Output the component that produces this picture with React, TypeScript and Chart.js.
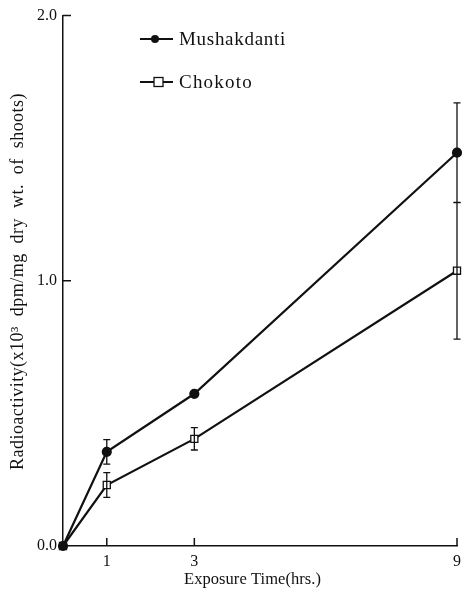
import React, { useEffect, useRef } from "react";
import { Chart, registerables } from "chart.js";

Chart.register(...registerables);

const times = [0, 1, 3, 9];
const mushakdanti = [0, 0.355, 0.574, 1.483];
const mushakdantiErr = [0, 0.046, 0, 0.188];
const chokoto = [0, 0.23, 0.404, 1.038];
const chokotoErr = [0, 0.047, 0.042, 0.258];
const xTicks = [1, 3, 9];
const yTicks = [0, 1, 2];
const seriesNames = ["Mushakdanti", "Chokoto"];
const xTitle = "Exposure Time(hrs.)";
const yTitle = "Radioactivity(x10³  dpm/mg  dry  wt.  of  shoots)";

const FONT = "'Liberation Serif', 'Times New Roman', serif";

function fitText(ctx: any, text: string, x: number, y: number, width: number, align: string) {
  ctx.letterSpacing = "0px";
  const w = ctx.measureText(text).width;
  const n = Array.from(text).length;
  const ls = n > 1 ? (width - w) / n : 0;
  ctx.letterSpacing = `${ls}px`;
  ctx.textAlign = align;
  ctx.fillText(text, x, y);
  ctx.letterSpacing = "0px";
}

const errorBarPlugin = {
  id: "errorBars",
  afterDatasetsDraw(chart: any) {
    const ctx = chart.ctx;
    const xs = chart.scales.x;
    const ys = chart.scales.y;
    const errs = [mushakdantiErr, chokotoErr];
    const vals = [mushakdanti, chokoto];
    ctx.save();
    ctx.strokeStyle = "#111";
    ctx.lineWidth = 1.3;
    errs.forEach((e, si) => {
      times.forEach((t, i) => {
        if (!e[i]) return;
        const px = xs.getPixelForValue(t);
        const top = ys.getPixelForValue(vals[si][i] + e[i]);
        const bot = ys.getPixelForValue(vals[si][i] - e[i]);
        ctx.beginPath();
        ctx.moveTo(px, top);
        ctx.lineTo(px, bot);
        ctx.moveTo(px - 3.5, top);
        ctx.lineTo(px + 3.5, top);
        ctx.moveTo(px - 3.5, bot);
        ctx.lineTo(px + 3.5, bot);
        ctx.stroke();
      });
    });
    ctx.lineWidth = 1.5;
    ctx.beginPath();
    xTicks.forEach((t) => {
      const px = xs.getPixelForValue(t);
      ctx.moveTo(px, ys.bottom);
      ctx.lineTo(px, ys.bottom - 8);
    });
    yTicks.forEach((t) => {
      if (t === 0) return;
      const py = ys.getPixelForValue(t);
      ctx.moveTo(xs.left, py);
      ctx.lineTo(xs.left + 8, py);
    });
    ctx.stroke();
    ctx.restore();
  },
  afterDraw(chart: any) {
    const ctx = chart.ctx;
    ctx.save();
    const rows = [
      { y: 39, name: seriesNames[0], filled: true, w: 107 },
      { y: 82, name: seriesNames[1], filled: false, w: 74 },
    ];
    rows.forEach((r) => {
      ctx.strokeStyle = "#111";
      ctx.lineWidth = 2;
      ctx.beginPath();
      ctx.moveTo(140, r.y);
      ctx.lineTo(173, r.y);
      ctx.stroke();
      if (r.filled) {
        ctx.fillStyle = "#111";
        ctx.beginPath();
        ctx.arc(155, r.y, 4, 0, Math.PI * 2);
        ctx.fill();
      } else {
        ctx.fillStyle = "#fff";
        ctx.lineWidth = 1.3;
        ctx.fillRect(154, r.y - 4.5, 9, 9);
        ctx.strokeRect(154, r.y - 4.5, 9, 9);
      }
      ctx.fillStyle = "#111";
      ctx.font = `19px ${FONT}`;
      ctx.textBaseline = "middle";
      fitText(ctx, r.name, 179, r.y + 1, r.w, "left");
    });
    ctx.fillStyle = "#111";
    ctx.font = `16.5px ${FONT}`;
    ctx.textBaseline = "middle";
    fitText(ctx, xTitle, 184, 580, 137, "left");
    ctx.font = `18px ${FONT}`;
    ctx.translate(18, 470);
    ctx.rotate(-Math.PI / 2);
    fitText(ctx, yTitle, 0, 0, 377, "left");
    ctx.restore();
  },
};

export default function App() {
  const ref = useRef<HTMLCanvasElement>(null);
  useEffect(() => {
    const toPts = (arr: number[]) => times.map((t, i) => ({ x: t, y: arr[i] }));
    const chart = new Chart(ref.current as HTMLCanvasElement, {
      type: "line",
      data: {
        datasets: [
          {
            label: seriesNames[0],
            data: toPts(mushakdanti),
            borderColor: "#111",
            backgroundColor: "#111",
            borderWidth: 2.2,
            pointRadius: 4,
            pointStyle: "circle",
            pointBackgroundColor: "#111",
            pointBorderColor: "#111",
            tension: 0,
            clip: false,
          },
          {
            label: seriesNames[1],
            data: toPts(chokoto),
            borderColor: "#111",
            backgroundColor: "#fff",
            borderWidth: 2.2,
            pointRadius: 5,
            pointBorderWidth: 1.3,
            pointStyle: "rect",
            pointBackgroundColor: "#fff",
            pointBorderColor: "#111",
            tension: 0,
            clip: false,
          },
        ],
      },
      options: {
        responsive: false,
        animation: false,
        layout: { padding: { top: 15, right: 7, left: 0, bottom: 0 } },
        plugins: { legend: { display: false }, tooltip: { enabled: false } },
        scales: {
          x: {
            type: "linear",
            min: 0,
            max: 9,
            grid: { display: false, drawTicks: false },
            border: { display: true, color: "#111", width: 1.5 },
            afterBuildTicks: (s: any) => {
              s.ticks = xTicks.map((v) => ({ value: v }));
            },
            afterFit: (s: any) => {
              s.height = 46;
              s.paddingRight = 0;
              s.paddingLeft = 0;
            },
            ticks: {
              color: "#111",
              font: { family: FONT, size: 16 },
              padding: 6,
              maxRotation: 0,
              callback: (v: any) => String(v),
            },
            title: { display: false },
          },
          y: {
            type: "linear",
            min: 0,
            max: 2,
            grid: { display: false, drawTicks: false },
            border: { display: true, color: "#111", width: 1.5 },
            afterBuildTicks: (s: any) => {
              s.ticks = yTicks.map((v) => ({ value: v }));
            },
            afterFit: (s: any) => {
              s.width = 63;
            },
            ticks: {
              color: "#111",
              font: { family: FONT, size: 16 },
              padding: 6,
              callback: (v: any) => Number(v).toFixed(1),
            },
            title: { display: false },
          },
        },
      },
      plugins: [errorBarPlugin],
    } as any);
    return () => chart.destroy();
  }, []);
  return (
    <div style={{ position: "absolute", left: 0, top: 0, width: 464, height: 592, background: "#fff" }}>
      <canvas ref={ref} width={464} height={592} style={{ display: "block" }} />
    </div>
  );
}
